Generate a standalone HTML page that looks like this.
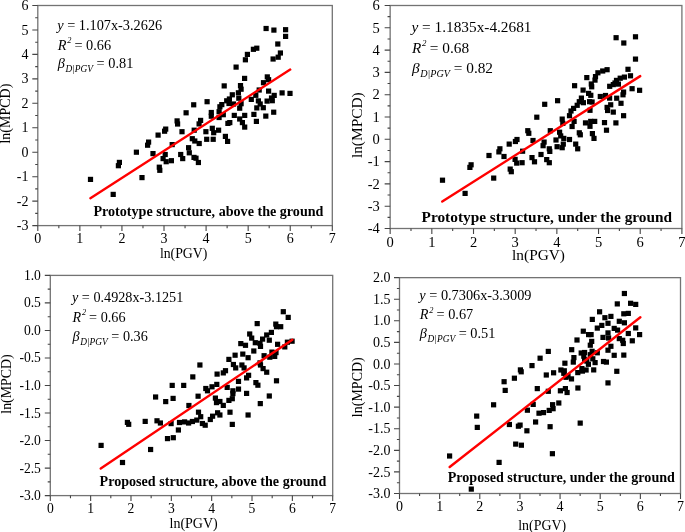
<!DOCTYPE html><html><head><meta charset="utf-8"><style>html,body{margin:0;padding:0;background:#fff;overflow:hidden}svg{display:block;will-change:transform}</style></head><body><svg width="685" height="532" viewBox="0 0 685 532" font-family='"Liberation Serif", serif'>
<rect width="685" height="532" fill="#fff"/>
<g fill="#000"><rect x="244.8" y="51.8" width="5.2" height="5.2"/><rect x="242.8" y="57.2" width="5.2" height="5.2"/><rect x="233.5" y="64.5" width="5.2" height="5.2"/><rect x="242.0" y="75.8" width="5.2" height="5.2"/><rect x="263.5" y="25.9" width="5.2" height="5.2"/><rect x="271.3" y="27.5" width="5.2" height="5.2"/><rect x="283.0" y="27.1" width="5.2" height="5.2"/><rect x="283.0" y="33.8" width="5.2" height="5.2"/><rect x="275.2" y="41.4" width="5.2" height="5.2"/><rect x="254.2" y="45.6" width="5.2" height="5.2"/><rect x="250.8" y="46.7" width="5.2" height="5.2"/><rect x="277.8" y="50.4" width="5.2" height="5.2"/><rect x="275.6" y="54.6" width="5.2" height="5.2"/><rect x="270.5" y="56.4" width="5.2" height="5.2"/><rect x="264.7" y="74.3" width="5.2" height="5.2"/><rect x="266.0" y="77.1" width="5.2" height="5.2"/><rect x="260.9" y="80.1" width="5.2" height="5.2"/><rect x="256.6" y="87.4" width="5.2" height="5.2"/><rect x="266.0" y="88.5" width="5.2" height="5.2"/><rect x="279.5" y="90.3" width="5.2" height="5.2"/><rect x="287.4" y="90.8" width="5.2" height="5.2"/><rect x="271.6" y="92.8" width="5.2" height="5.2"/><rect x="269.7" y="98.1" width="5.2" height="5.2"/><rect x="264.5" y="98.5" width="5.2" height="5.2"/><rect x="253.2" y="92.7" width="5.2" height="5.2"/><rect x="248.7" y="96.8" width="5.2" height="5.2"/><rect x="255.8" y="98.3" width="5.2" height="5.2"/><rect x="254.2" y="105.3" width="5.2" height="5.2"/><rect x="260.7" y="105.1" width="5.2" height="5.2"/><rect x="251.3" y="111.8" width="5.2" height="5.2"/><rect x="263.2" y="113.5" width="5.2" height="5.2"/><rect x="271.1" y="109.6" width="5.2" height="5.2"/><rect x="253.8" y="118.8" width="5.2" height="5.2"/><rect x="221.6" y="83.3" width="5.2" height="5.2"/><rect x="204.5" y="99.1" width="5.2" height="5.2"/><rect x="229.7" y="92.2" width="5.2" height="5.2"/><rect x="226.8" y="96.4" width="5.2" height="5.2"/><rect x="224.1" y="98.2" width="5.2" height="5.2"/><rect x="219.2" y="102.0" width="5.2" height="5.2"/><rect x="217.3" y="104.2" width="5.2" height="5.2"/><rect x="216.5" y="109.1" width="5.2" height="5.2"/><rect x="208.7" y="109.9" width="5.2" height="5.2"/><rect x="208.7" y="113.6" width="5.2" height="5.2"/><rect x="198.0" y="117.8" width="5.2" height="5.2"/><rect x="220.7" y="112.1" width="5.2" height="5.2"/><rect x="237.9" y="83.0" width="5.2" height="5.2"/><rect x="238.5" y="86.6" width="5.2" height="5.2"/><rect x="235.8" y="90.2" width="5.2" height="5.2"/><rect x="236.2" y="95.6" width="5.2" height="5.2"/><rect x="238.5" y="101.1" width="5.2" height="5.2"/><rect x="237.1" y="105.6" width="5.2" height="5.2"/><rect x="231.7" y="112.8" width="5.2" height="5.2"/><rect x="242.1" y="112.8" width="5.2" height="5.2"/><rect x="237.1" y="116.4" width="5.2" height="5.2"/><rect x="239.8" y="120.0" width="5.2" height="5.2"/><rect x="242.1" y="124.5" width="5.2" height="5.2"/><rect x="227.2" y="120.0" width="5.2" height="5.2"/><rect x="191.1" y="102.2" width="5.2" height="5.2"/><rect x="183.5" y="110.2" width="5.2" height="5.2"/><rect x="196.5" y="121.3" width="5.2" height="5.2"/><rect x="179.4" y="129.1" width="5.2" height="5.2"/><rect x="191.6" y="127.6" width="5.2" height="5.2"/><rect x="203.3" y="129.1" width="5.2" height="5.2"/><rect x="209.7" y="125.7" width="5.2" height="5.2"/><rect x="211.1" y="130.1" width="5.2" height="5.2"/><rect x="216.0" y="127.6" width="5.2" height="5.2"/><rect x="204.1" y="136.7" width="5.2" height="5.2"/><rect x="210.6" y="136.7" width="5.2" height="5.2"/><rect x="189.7" y="136.1" width="5.2" height="5.2"/><rect x="192.2" y="138.4" width="5.2" height="5.2"/><rect x="196.6" y="140.9" width="5.2" height="5.2"/><rect x="186.0" y="145.1" width="5.2" height="5.2"/><rect x="222.8" y="133.8" width="5.2" height="5.2"/><rect x="225.0" y="138.8" width="5.2" height="5.2"/><rect x="225.3" y="120.8" width="5.2" height="5.2"/><rect x="216.5" y="114.9" width="5.2" height="5.2"/><rect x="174.5" y="118.3" width="5.2" height="5.2"/><rect x="175.0" y="121.4" width="5.2" height="5.2"/><rect x="163.1" y="126.5" width="5.2" height="5.2"/><rect x="162.0" y="128.6" width="5.2" height="5.2"/><rect x="155.5" y="132.5" width="5.2" height="5.2"/><rect x="146.0" y="139.5" width="5.2" height="5.2"/><rect x="145.0" y="142.6" width="5.2" height="5.2"/><rect x="133.8" y="149.6" width="5.2" height="5.2"/><rect x="150.4" y="151.0" width="5.2" height="5.2"/><rect x="169.6" y="142.0" width="5.2" height="5.2"/><rect x="162.6" y="151.9" width="5.2" height="5.2"/><rect x="160.5" y="156.0" width="5.2" height="5.2"/><rect x="168.8" y="158.1" width="5.2" height="5.2"/><rect x="163.6" y="159.1" width="5.2" height="5.2"/><rect x="178.1" y="151.9" width="5.2" height="5.2"/><rect x="180.1" y="156.0" width="5.2" height="5.2"/><rect x="156.7" y="164.6" width="5.2" height="5.2"/><rect x="157.2" y="167.7" width="5.2" height="5.2"/><rect x="139.4" y="175.0" width="5.2" height="5.2"/><rect x="186.7" y="150.2" width="5.2" height="5.2"/><rect x="191.4" y="154.8" width="5.2" height="5.2"/><rect x="116.8" y="159.8" width="5.2" height="5.2"/><rect x="115.8" y="163.1" width="5.2" height="5.2"/><rect x="87.9" y="176.8" width="5.2" height="5.2"/><rect x="110.6" y="191.8" width="5.2" height="5.2"/><rect x="193.4" y="155.6" width="5.2" height="5.2"/><rect x="195.8" y="159.9" width="5.2" height="5.2"/><rect x="226.4" y="100.9" width="5.2" height="5.2"/><rect x="230.9" y="101.4" width="5.2" height="5.2"/><rect x="257.6" y="101.4" width="5.2" height="5.2"/><rect x="268.9" y="95.4" width="5.2" height="5.2"/></g>
<line x1="90.39" y1="198.18" x2="290.23" y2="69.59" stroke="#f00" stroke-width="2.4" stroke-linecap="round"/>
<rect x="37.80" y="5.50" width="294.50" height="220.10" fill="none" stroke="#737373" stroke-width="1.3"/>
<path d="M37.80 225.60v5.5M58.84 225.60v2.6M79.87 225.60v5.5M100.91 225.60v2.6M121.94 225.60v5.5M142.98 225.60v2.6M164.01 225.60v5.5M185.05 225.60v2.6M206.09 225.60v5.5M227.12 225.60v2.6M248.16 225.60v5.5M269.19 225.60v2.6M290.23 225.60v5.5M311.26 225.60v2.6M332.30 225.60v5.5M37.80 225.60h-5.5M37.80 213.37h-2.6M37.80 201.14h-5.5M37.80 188.92h-2.6M37.80 176.69h-5.5M37.80 164.46h-2.6M37.80 152.23h-5.5M37.80 140.01h-2.6M37.80 127.78h-5.5M37.80 115.55h-2.6M37.80 103.32h-5.5M37.80 91.09h-2.6M37.80 78.87h-5.5M37.80 66.64h-2.6M37.80 54.41h-5.5M37.80 42.18h-2.6M37.80 29.96h-5.5M37.80 17.73h-2.6M37.80 5.50h-5.5" stroke="#444" stroke-width="1.1" fill="none"/>
<g font-size="14.0" fill="#000"><text x="37.80" y="242.70" text-anchor="middle">0</text><text x="79.87" y="242.70" text-anchor="middle">1</text><text x="121.94" y="242.70" text-anchor="middle">2</text><text x="164.01" y="242.70" text-anchor="middle">3</text><text x="206.09" y="242.70" text-anchor="middle">4</text><text x="248.16" y="242.70" text-anchor="middle">5</text><text x="290.23" y="242.70" text-anchor="middle">6</text><text x="332.30" y="242.70" text-anchor="middle">7</text><text x="28.52" y="230.22" text-anchor="end">-3</text><text x="28.52" y="205.76" text-anchor="end">-2</text><text x="28.52" y="181.31" text-anchor="end">-1</text><text x="28.52" y="156.85" text-anchor="end">0</text><text x="28.52" y="132.40" text-anchor="end">1</text><text x="28.52" y="107.94" text-anchor="end">2</text><text x="28.52" y="83.49" text-anchor="end">3</text><text x="28.52" y="59.03" text-anchor="end">4</text><text x="28.52" y="34.58" text-anchor="end">5</text><text x="28.52" y="10.12" text-anchor="end">6</text></g>
<text x="183.65" y="257.70" font-size="13.8" text-anchor="middle" fill="#000">ln(PGV)</text>
<text transform="translate(9.90,113.60) rotate(-90)" font-size="14.0" text-anchor="middle" fill="#000">ln(MPCD)</text>
<text x="57.22" y="30.00" font-size="14.3" fill="#000"><tspan font-style="italic">y</tspan> = 1.107x-3.2626</text>
<text x="57.71" y="49.60" font-size="14.3" fill="#000"><tspan font-style="italic">R</tspan><tspan font-style="italic" font-size="8.3" dx="0.72" dy="-6.44">2</tspan><tspan dy="6.44" dx="-0.43"> = 0.66</tspan></text>
<text x="57.71" y="67.70" font-size="14.3" fill="#000"><tspan font-style="italic">β</tspan><tspan font-style="italic" font-size="9.4" dx="0.64" dy="4.00">D|PGV</tspan><tspan dy="-4.00"> = 0.81</tspan></text>
<text x="93.39" y="215.60" font-size="14.12" font-weight="bold" fill="#000">Prototype structure, above the ground</text>
<g fill="#000"><rect x="613.5" y="35.1" width="5.2" height="5.2"/><rect x="621.2" y="40.4" width="5.2" height="5.2"/><rect x="632.9" y="34.2" width="5.2" height="5.2"/><rect x="632.9" y="56.5" width="5.2" height="5.2"/><rect x="625.4" y="66.7" width="5.2" height="5.2"/><rect x="604.5" y="67.1" width="5.2" height="5.2"/><rect x="600.1" y="68.4" width="5.2" height="5.2"/><rect x="595.3" y="70.2" width="5.2" height="5.2"/><rect x="592.9" y="74.0" width="5.2" height="5.2"/><rect x="584.2" y="75.0" width="5.2" height="5.2"/><rect x="592.4" y="77.5" width="5.2" height="5.2"/><rect x="588.7" y="81.4" width="5.2" height="5.2"/><rect x="589.1" y="84.2" width="5.2" height="5.2"/><rect x="627.9" y="73.2" width="5.2" height="5.2"/><rect x="621.8" y="74.5" width="5.2" height="5.2"/><rect x="617.6" y="75.6" width="5.2" height="5.2"/><rect x="613.9" y="77.8" width="5.2" height="5.2"/><rect x="612.4" y="80.4" width="5.2" height="5.2"/><rect x="607.1" y="83.7" width="5.2" height="5.2"/><rect x="580.5" y="87.5" width="5.2" height="5.2"/><rect x="629.5" y="86.1" width="5.2" height="5.2"/><rect x="588.2" y="92.7" width="5.2" height="5.2"/><rect x="589.5" y="99.4" width="5.2" height="5.2"/><rect x="587.4" y="107.7" width="5.2" height="5.2"/><rect x="615.8" y="81.5" width="5.2" height="5.2"/><rect x="610.7" y="82.0" width="5.2" height="5.2"/><rect x="637.0" y="87.7" width="5.2" height="5.2"/><rect x="621.0" y="89.5" width="5.2" height="5.2"/><rect x="620.4" y="92.2" width="5.2" height="5.2"/><rect x="597.7" y="93.9" width="5.2" height="5.2"/><rect x="602.9" y="92.9" width="5.2" height="5.2"/><rect x="607.0" y="95.5" width="5.2" height="5.2"/><rect x="614.1" y="95.6" width="5.2" height="5.2"/><rect x="618.4" y="100.7" width="5.2" height="5.2"/><rect x="608.1" y="102.2" width="5.2" height="5.2"/><rect x="604.5" y="104.8" width="5.2" height="5.2"/><rect x="605.0" y="107.9" width="5.2" height="5.2"/><rect x="610.7" y="109.5" width="5.2" height="5.2"/><rect x="621.0" y="113.1" width="5.2" height="5.2"/><rect x="572.0" y="83.1" width="5.2" height="5.2"/><rect x="586.0" y="90.8" width="5.2" height="5.2"/><rect x="578.8" y="95.5" width="5.2" height="5.2"/><rect x="576.7" y="99.1" width="5.2" height="5.2"/><rect x="580.8" y="100.1" width="5.2" height="5.2"/><rect x="587.0" y="99.1" width="5.2" height="5.2"/><rect x="574.6" y="102.7" width="5.2" height="5.2"/><rect x="571.0" y="105.8" width="5.2" height="5.2"/><rect x="568.4" y="108.4" width="5.2" height="5.2"/><rect x="566.9" y="113.1" width="5.2" height="5.2"/><rect x="559.6" y="116.5" width="5.2" height="5.2"/><rect x="555.0" y="98.1" width="5.2" height="5.2"/><rect x="542.1" y="101.7" width="5.2" height="5.2"/><rect x="560.2" y="120.8" width="5.2" height="5.2"/><rect x="571.5" y="118.8" width="5.2" height="5.2"/><rect x="569.5" y="123.9" width="5.2" height="5.2"/><rect x="582.9" y="120.3" width="5.2" height="5.2"/><rect x="588.1" y="118.8" width="5.2" height="5.2"/><rect x="587.4" y="123.7" width="5.2" height="5.2"/><rect x="576.7" y="130.2" width="5.2" height="5.2"/><rect x="577.7" y="132.2" width="5.2" height="5.2"/><rect x="589.8" y="131.0" width="5.2" height="5.2"/><rect x="591.4" y="135.8" width="5.2" height="5.2"/><rect x="547.7" y="128.1" width="5.2" height="5.2"/><rect x="557.0" y="129.6" width="5.2" height="5.2"/><rect x="558.1" y="133.3" width="5.2" height="5.2"/><rect x="553.4" y="137.4" width="5.2" height="5.2"/><rect x="561.2" y="135.8" width="5.2" height="5.2"/><rect x="566.9" y="136.9" width="5.2" height="5.2"/><rect x="560.7" y="141.5" width="5.2" height="5.2"/><rect x="554.5" y="144.1" width="5.2" height="5.2"/><rect x="559.6" y="145.1" width="5.2" height="5.2"/><rect x="573.1" y="141.5" width="5.2" height="5.2"/><rect x="575.1" y="146.2" width="5.2" height="5.2"/><rect x="541.5" y="139.5" width="5.2" height="5.2"/><rect x="540.5" y="143.1" width="5.2" height="5.2"/><rect x="546.7" y="146.2" width="5.2" height="5.2"/><rect x="547.2" y="148.8" width="5.2" height="5.2"/><rect x="538.4" y="151.9" width="5.2" height="5.2"/><rect x="544.1" y="157.0" width="5.2" height="5.2"/><rect x="546.7" y="160.1" width="5.2" height="5.2"/><rect x="592.1" y="118.8" width="5.2" height="5.2"/><rect x="601.9" y="120.0" width="5.2" height="5.2"/><rect x="613.3" y="120.3" width="5.2" height="5.2"/><rect x="603.9" y="127.6" width="5.2" height="5.2"/><rect x="534.2" y="114.6" width="5.2" height="5.2"/><rect x="525.2" y="128.1" width="5.2" height="5.2"/><rect x="526.2" y="130.7" width="5.2" height="5.2"/><rect x="514.4" y="136.9" width="5.2" height="5.2"/><rect x="512.8" y="138.9" width="5.2" height="5.2"/><rect x="506.6" y="141.5" width="5.2" height="5.2"/><rect x="530.4" y="137.9" width="5.2" height="5.2"/><rect x="520.0" y="148.6" width="5.2" height="5.2"/><rect x="497.3" y="146.2" width="5.2" height="5.2"/><rect x="496.3" y="149.3" width="5.2" height="5.2"/><rect x="501.4" y="153.9" width="5.2" height="5.2"/><rect x="486.4" y="152.9" width="5.2" height="5.2"/><rect x="512.5" y="156.8" width="5.2" height="5.2"/><rect x="514.1" y="160.5" width="5.2" height="5.2"/><rect x="519.5" y="160.1" width="5.2" height="5.2"/><rect x="529.4" y="155.0" width="5.2" height="5.2"/><rect x="531.9" y="159.2" width="5.2" height="5.2"/><rect x="507.6" y="166.5" width="5.2" height="5.2"/><rect x="508.7" y="169.1" width="5.2" height="5.2"/><rect x="491.1" y="175.5" width="5.2" height="5.2"/><rect x="468.5" y="162.2" width="5.2" height="5.2"/><rect x="467.3" y="164.8" width="5.2" height="5.2"/><rect x="439.9" y="177.6" width="5.2" height="5.2"/><rect x="462.5" y="190.8" width="5.2" height="5.2"/></g>
<line x1="442.25" y1="201.49" x2="640.22" y2="76.13" stroke="#f00" stroke-width="2.4" stroke-linecap="round"/>
<rect x="390.15" y="5.50" width="291.75" height="223.00" fill="none" stroke="#737373" stroke-width="1.3"/>
<path d="M390.15 228.50v5.5M410.99 228.50v2.6M431.83 228.50v5.5M452.67 228.50v2.6M473.51 228.50v5.5M494.35 228.50v2.6M515.19 228.50v5.5M536.02 228.50v2.6M556.86 228.50v5.5M577.70 228.50v2.6M598.54 228.50v5.5M619.38 228.50v2.6M640.22 228.50v5.5M661.06 228.50v2.6M681.90 228.50v5.5M390.15 228.50h-5.5M390.15 217.35h-2.6M390.15 206.20h-5.5M390.15 195.05h-2.6M390.15 183.90h-5.5M390.15 172.75h-2.6M390.15 161.60h-5.5M390.15 150.45h-2.6M390.15 139.30h-5.5M390.15 128.15h-2.6M390.15 117.00h-5.5M390.15 105.85h-2.6M390.15 94.70h-5.5M390.15 83.55h-2.6M390.15 72.40h-5.5M390.15 61.25h-2.6M390.15 50.10h-5.5M390.15 38.95h-2.6M390.15 27.80h-5.5M390.15 16.65h-2.6M390.15 5.50h-5.5" stroke="#444" stroke-width="1.1" fill="none"/>
<g font-size="14.5" fill="#000"><text x="390.15" y="246.80" text-anchor="middle">0</text><text x="431.83" y="246.80" text-anchor="middle">1</text><text x="473.51" y="246.80" text-anchor="middle">2</text><text x="515.19" y="246.80" text-anchor="middle">3</text><text x="556.86" y="246.80" text-anchor="middle">4</text><text x="598.54" y="246.80" text-anchor="middle">5</text><text x="640.22" y="246.80" text-anchor="middle">6</text><text x="681.90" y="246.80" text-anchor="middle">7</text><text x="379.83" y="233.28" text-anchor="end">-4</text><text x="379.83" y="210.98" text-anchor="end">-3</text><text x="379.83" y="188.69" text-anchor="end">-2</text><text x="379.83" y="166.38" text-anchor="end">-1</text><text x="379.83" y="144.09" text-anchor="end">0</text><text x="379.83" y="121.78" text-anchor="end">1</text><text x="379.83" y="99.48" text-anchor="end">2</text><text x="379.83" y="77.19" text-anchor="end">3</text><text x="379.83" y="54.88" text-anchor="end">4</text><text x="379.83" y="32.58" text-anchor="end">5</text><text x="379.83" y="10.29" text-anchor="end">6</text></g>
<text x="538.55" y="260.10" font-size="15.35" text-anchor="middle" fill="#000">ln(PGV)</text>
<text transform="translate(362.30,125.20) rotate(-90)" font-size="15.4" text-anchor="middle" fill="#000">ln(MPCD)</text>
<text x="411.50" y="31.80" font-size="15.3" fill="#000"><tspan font-style="italic">y</tspan> = 1.1835x-4.2681</text>
<text x="411.93" y="52.90" font-size="15.3" fill="#000"><tspan font-style="italic">R</tspan><tspan font-style="italic" font-size="8.9" dx="0.77" dy="-6.89">2</tspan><tspan dy="6.89" dx="-0.46"> = 0.68</tspan></text>
<text x="411.93" y="72.80" font-size="15.3" fill="#000"><tspan font-style="italic">β</tspan><tspan font-style="italic" font-size="10.1" dx="0.72" dy="4.28">D|PGV</tspan><tspan dy="-4.28"> = 0.82</tspan></text>
<text x="421.57" y="222.00" font-size="15.34" font-weight="bold" fill="#000">Prototype structure, under the ground</text>
<g fill="#000"><rect x="280.7" y="309.1" width="5.2" height="5.2"/><rect x="285.6" y="314.8" width="5.2" height="5.2"/><rect x="254.6" y="321.0" width="5.2" height="5.2"/><rect x="273.2" y="321.5" width="5.2" height="5.2"/><rect x="278.1" y="324.1" width="5.2" height="5.2"/><rect x="273.9" y="324.1" width="5.2" height="5.2"/><rect x="268.8" y="329.8" width="5.2" height="5.2"/><rect x="264.1" y="332.4" width="5.2" height="5.2"/><rect x="266.7" y="337.6" width="5.2" height="5.2"/><rect x="260.0" y="336.5" width="5.2" height="5.2"/><rect x="247.1" y="331.4" width="5.2" height="5.2"/><rect x="249.1" y="335.5" width="5.2" height="5.2"/><rect x="252.7" y="340.1" width="5.2" height="5.2"/><rect x="257.4" y="340.7" width="5.2" height="5.2"/><rect x="257.9" y="343.8" width="5.2" height="5.2"/><rect x="242.9" y="342.7" width="5.2" height="5.2"/><rect x="251.2" y="348.4" width="5.2" height="5.2"/><rect x="275.0" y="341.7" width="5.2" height="5.2"/><rect x="282.2" y="344.3" width="5.2" height="5.2"/><rect x="289.5" y="338.6" width="5.2" height="5.2"/><rect x="284.8" y="339.6" width="5.2" height="5.2"/><rect x="269.3" y="349.5" width="5.2" height="5.2"/><rect x="273.4" y="350.0" width="5.2" height="5.2"/><rect x="261.5" y="353.1" width="5.2" height="5.2"/><rect x="272.1" y="353.8" width="5.2" height="5.2"/><rect x="245.5" y="355.1" width="5.2" height="5.2"/><rect x="267.2" y="354.6" width="5.2" height="5.2"/><rect x="257.4" y="360.3" width="5.2" height="5.2"/><rect x="257.9" y="362.4" width="5.2" height="5.2"/><rect x="260.5" y="366.0" width="5.2" height="5.2"/><rect x="264.1" y="369.6" width="5.2" height="5.2"/><rect x="246.0" y="372.7" width="5.2" height="5.2"/><rect x="244.0" y="375.3" width="5.2" height="5.2"/><rect x="253.3" y="380.0" width="5.2" height="5.2"/><rect x="255.3" y="382.6" width="5.2" height="5.2"/><rect x="273.9" y="378.2" width="5.2" height="5.2"/><rect x="244.0" y="390.8" width="5.2" height="5.2"/><rect x="266.7" y="393.4" width="5.2" height="5.2"/><rect x="257.7" y="401.0" width="5.2" height="5.2"/><rect x="238.2" y="341.0" width="5.2" height="5.2"/><rect x="240.2" y="351.5" width="5.2" height="5.2"/><rect x="232.5" y="352.6" width="5.2" height="5.2"/><rect x="226.3" y="356.8" width="5.2" height="5.2"/><rect x="230.8" y="361.9" width="5.2" height="5.2"/><rect x="233.1" y="365.3" width="5.2" height="5.2"/><rect x="239.3" y="362.4" width="5.2" height="5.2"/><rect x="241.5" y="365.3" width="5.2" height="5.2"/><rect x="222.9" y="368.1" width="5.2" height="5.2"/><rect x="220.7" y="370.3" width="5.2" height="5.2"/><rect x="214.5" y="371.5" width="5.2" height="5.2"/><rect x="197.3" y="362.4" width="5.2" height="5.2"/><rect x="190.2" y="374.3" width="5.2" height="5.2"/><rect x="235.9" y="378.8" width="5.2" height="5.2"/><rect x="214.2" y="381.8" width="5.2" height="5.2"/><rect x="203.2" y="385.9" width="5.2" height="5.2"/><rect x="204.9" y="388.2" width="5.2" height="5.2"/><rect x="209.4" y="384.2" width="5.2" height="5.2"/><rect x="224.6" y="384.8" width="5.2" height="5.2"/><rect x="230.3" y="388.2" width="5.2" height="5.2"/><rect x="235.9" y="386.5" width="5.2" height="5.2"/><rect x="230.3" y="391.0" width="5.2" height="5.2"/><rect x="195.5" y="393.6" width="5.2" height="5.2"/><rect x="212.8" y="395.5" width="5.2" height="5.2"/><rect x="213.9" y="400.0" width="5.2" height="5.2"/><rect x="217.3" y="398.9" width="5.2" height="5.2"/><rect x="220.7" y="402.8" width="5.2" height="5.2"/><rect x="226.3" y="397.8" width="5.2" height="5.2"/><rect x="229.7" y="396.1" width="5.2" height="5.2"/><rect x="227.4" y="409.6" width="5.2" height="5.2"/><rect x="245.5" y="412.4" width="5.2" height="5.2"/><rect x="229.7" y="421.8" width="5.2" height="5.2"/><rect x="195.9" y="409.6" width="5.2" height="5.2"/><rect x="198.1" y="414.1" width="5.2" height="5.2"/><rect x="215.0" y="410.2" width="5.2" height="5.2"/><rect x="217.3" y="412.4" width="5.2" height="5.2"/><rect x="210.0" y="413.6" width="5.2" height="5.2"/><rect x="207.7" y="416.9" width="5.2" height="5.2"/><rect x="189.8" y="418.9" width="5.2" height="5.2"/><rect x="194.2" y="417.5" width="5.2" height="5.2"/><rect x="199.8" y="420.9" width="5.2" height="5.2"/><rect x="202.6" y="422.6" width="5.2" height="5.2"/><rect x="169.6" y="382.8" width="5.2" height="5.2"/><rect x="181.1" y="382.8" width="5.2" height="5.2"/><rect x="153.0" y="394.4" width="5.2" height="5.2"/><rect x="163.1" y="399.0" width="5.2" height="5.2"/><rect x="170.5" y="395.8" width="5.2" height="5.2"/><rect x="186.3" y="402.9" width="5.2" height="5.2"/><rect x="142.6" y="418.8" width="5.2" height="5.2"/><rect x="154.4" y="418.2" width="5.2" height="5.2"/><rect x="157.8" y="420.4" width="5.2" height="5.2"/><rect x="168.5" y="421.0" width="5.2" height="5.2"/><rect x="176.9" y="419.9" width="5.2" height="5.2"/><rect x="182.0" y="419.3" width="5.2" height="5.2"/><rect x="186.0" y="420.4" width="5.2" height="5.2"/><rect x="175.8" y="427.4" width="5.2" height="5.2"/><rect x="164.9" y="436.0" width="5.2" height="5.2"/><rect x="170.7" y="435.1" width="5.2" height="5.2"/><rect x="148.0" y="446.9" width="5.2" height="5.2"/><rect x="124.8" y="419.8" width="5.2" height="5.2"/><rect x="126.1" y="421.7" width="5.2" height="5.2"/><rect x="98.5" y="442.8" width="5.2" height="5.2"/><rect x="119.9" y="459.9" width="5.2" height="5.2"/></g>
<line x1="100.73" y1="468.58" x2="292.36" y2="339.71" stroke="#f00" stroke-width="2.4" stroke-linecap="round"/>
<rect x="50.30" y="275.40" width="282.40" height="220.20" fill="none" stroke="#737373" stroke-width="1.3"/>
<path d="M50.30 495.60v5.5M70.47 495.60v2.6M90.64 495.60v5.5M110.81 495.60v2.6M130.99 495.60v5.5M151.16 495.60v2.6M171.33 495.60v5.5M191.50 495.60v2.6M211.67 495.60v5.5M231.84 495.60v2.6M252.01 495.60v5.5M272.19 495.60v2.6M292.36 495.60v5.5M312.53 495.60v2.6M332.70 495.60v5.5M50.30 495.60h-5.5M50.30 481.84h-2.6M50.30 468.08h-5.5M50.30 454.31h-2.6M50.30 440.55h-5.5M50.30 426.79h-2.6M50.30 413.02h-5.5M50.30 399.26h-2.6M50.30 385.50h-5.5M50.30 371.74h-2.6M50.30 357.98h-5.5M50.30 344.21h-2.6M50.30 330.45h-5.5M50.30 316.69h-2.6M50.30 302.92h-5.5M50.30 289.16h-2.6M50.30 275.40h-5.5" stroke="#444" stroke-width="1.1" fill="none"/>
<g font-size="13.6" fill="#000"><text x="50.30" y="512.50" text-anchor="middle">0</text><text x="90.64" y="512.50" text-anchor="middle">1</text><text x="130.99" y="512.50" text-anchor="middle">2</text><text x="171.33" y="512.50" text-anchor="middle">3</text><text x="211.67" y="512.50" text-anchor="middle">4</text><text x="252.01" y="512.50" text-anchor="middle">5</text><text x="292.36" y="512.50" text-anchor="middle">6</text><text x="332.70" y="512.50" text-anchor="middle">7</text><text x="40.91" y="500.09" text-anchor="end">-3.0</text><text x="40.91" y="472.56" text-anchor="end">-2.5</text><text x="40.91" y="445.04" text-anchor="end">-2.0</text><text x="40.91" y="417.51" text-anchor="end">-1.5</text><text x="40.91" y="389.99" text-anchor="end">-1.0</text><text x="40.91" y="362.46" text-anchor="end">-0.5</text><text x="40.91" y="334.94" text-anchor="end">0.0</text><text x="40.91" y="307.41" text-anchor="end">0.5</text><text x="40.91" y="279.89" text-anchor="end">1.0</text></g>
<text x="193.65" y="527.90" font-size="14.0" text-anchor="middle" fill="#000">ln(PGV)</text>
<text transform="translate(11.30,384.00) rotate(-90)" font-size="13.9" text-anchor="middle" fill="#000">ln(MPCD)</text>
<text x="72.01" y="301.60" font-size="14.2" fill="#000"><tspan font-style="italic">y</tspan> = 0.4928x-3.1251</text>
<text x="72.51" y="321.80" font-size="14.2" fill="#000"><tspan font-style="italic">R</tspan><tspan font-style="italic" font-size="8.2" dx="0.71" dy="-6.39">2</tspan><tspan dy="6.39" dx="-0.43"> = 0.66</tspan></text>
<text x="72.51" y="340.60" font-size="14.2" fill="#000"><tspan font-style="italic">β</tspan><tspan font-style="italic" font-size="9.4" dx="0.64" dy="3.98">D|PGV</tspan><tspan dy="-3.98"> = 0.36</tspan></text>
<text x="99.59" y="485.90" font-size="14.1" font-weight="bold" fill="#000">Proposed structure, above the ground</text>
<g fill="#000"><rect x="621.8" y="290.9" width="5.2" height="5.2"/><rect x="614.7" y="301.3" width="5.2" height="5.2"/><rect x="628.0" y="300.7" width="5.2" height="5.2"/><rect x="633.1" y="301.8" width="5.2" height="5.2"/><rect x="597.0" y="309.2" width="5.2" height="5.2"/><rect x="621.2" y="311.2" width="5.2" height="5.2"/><rect x="625.7" y="310.8" width="5.2" height="5.2"/><rect x="608.3" y="313.8" width="5.2" height="5.2"/><rect x="602.3" y="315.1" width="5.2" height="5.2"/><rect x="589.7" y="316.8" width="5.2" height="5.2"/><rect x="616.7" y="318.7" width="5.2" height="5.2"/><rect x="621.8" y="320.2" width="5.2" height="5.2"/><rect x="605.4" y="320.7" width="5.2" height="5.2"/><rect x="599.2" y="322.8" width="5.2" height="5.2"/><rect x="594.7" y="325.5" width="5.2" height="5.2"/><rect x="611.6" y="325.8" width="5.2" height="5.2"/><rect x="615.0" y="327.5" width="5.2" height="5.2"/><rect x="633.1" y="325.3" width="5.2" height="5.2"/><rect x="625.7" y="330.9" width="5.2" height="5.2"/><rect x="637.0" y="332.0" width="5.2" height="5.2"/><rect x="605.4" y="330.3" width="5.2" height="5.2"/><rect x="600.4" y="334.8" width="5.2" height="5.2"/><rect x="606.0" y="335.4" width="5.2" height="5.2"/><rect x="616.7" y="336.0" width="5.2" height="5.2"/><rect x="620.1" y="337.7" width="5.2" height="5.2"/><rect x="629.7" y="338.2" width="5.2" height="5.2"/><rect x="588.5" y="332.0" width="5.2" height="5.2"/><rect x="589.1" y="338.8" width="5.2" height="5.2"/><rect x="580.7" y="328.6" width="5.2" height="5.2"/><rect x="586.0" y="332.0" width="5.2" height="5.2"/><rect x="574.4" y="337.4" width="5.2" height="5.2"/><rect x="587.7" y="342.6" width="5.2" height="5.2"/><rect x="545.7" y="348.8" width="5.2" height="5.2"/><rect x="537.5" y="355.6" width="5.2" height="5.2"/><rect x="569.1" y="347.1" width="5.2" height="5.2"/><rect x="578.6" y="350.4" width="5.2" height="5.2"/><rect x="582.0" y="349.9" width="5.2" height="5.2"/><rect x="587.7" y="352.1" width="5.2" height="5.2"/><rect x="571.3" y="355.0" width="5.2" height="5.2"/><rect x="570.7" y="359.5" width="5.2" height="5.2"/><rect x="582.0" y="357.2" width="5.2" height="5.2"/><rect x="585.8" y="361.7" width="5.2" height="5.2"/><rect x="562.3" y="360.6" width="5.2" height="5.2"/><rect x="558.3" y="367.4" width="5.2" height="5.2"/><rect x="551.0" y="370.2" width="5.2" height="5.2"/><rect x="561.2" y="370.7" width="5.2" height="5.2"/><rect x="563.4" y="374.7" width="5.2" height="5.2"/><rect x="568.9" y="376.3" width="5.2" height="5.2"/><rect x="543.7" y="372.4" width="5.2" height="5.2"/><rect x="575.2" y="370.0" width="5.2" height="5.2"/><rect x="579.8" y="368.5" width="5.2" height="5.2"/><rect x="583.5" y="367.4" width="5.2" height="5.2"/><rect x="591.1" y="367.3" width="5.2" height="5.2"/><rect x="534.7" y="386.0" width="5.2" height="5.2"/><rect x="545.7" y="388.7" width="5.2" height="5.2"/><rect x="557.8" y="388.2" width="5.2" height="5.2"/><rect x="562.8" y="386.0" width="5.2" height="5.2"/><rect x="564.5" y="389.9" width="5.2" height="5.2"/><rect x="575.3" y="385.4" width="5.2" height="5.2"/><rect x="589.5" y="348.7" width="5.2" height="5.2"/><rect x="594.7" y="350.2" width="5.2" height="5.2"/><rect x="581.2" y="353.6" width="5.2" height="5.2"/><rect x="584.2" y="358.5" width="5.2" height="5.2"/><rect x="590.2" y="356.2" width="5.2" height="5.2"/><rect x="592.5" y="360.0" width="5.2" height="5.2"/><rect x="561.7" y="368.2" width="5.2" height="5.2"/><rect x="579.3" y="366.0" width="5.2" height="5.2"/><rect x="565.4" y="373.5" width="5.2" height="5.2"/><rect x="620.7" y="340.9" width="5.2" height="5.2"/><rect x="608.3" y="343.7" width="5.2" height="5.2"/><rect x="605.4" y="347.6" width="5.2" height="5.2"/><rect x="611.6" y="352.7" width="5.2" height="5.2"/><rect x="621.2" y="352.5" width="5.2" height="5.2"/><rect x="600.9" y="358.9" width="5.2" height="5.2"/><rect x="603.8" y="359.5" width="5.2" height="5.2"/><rect x="614.2" y="368.7" width="5.2" height="5.2"/><rect x="605.4" y="380.3" width="5.2" height="5.2"/><rect x="530.6" y="401.8" width="5.2" height="5.2"/><rect x="556.2" y="400.4" width="5.2" height="5.2"/><rect x="550.0" y="402.1" width="5.2" height="5.2"/><rect x="550.5" y="406.1" width="5.2" height="5.2"/><rect x="546.6" y="407.8" width="5.2" height="5.2"/><rect x="540.9" y="410.0" width="5.2" height="5.2"/><rect x="536.4" y="410.6" width="5.2" height="5.2"/><rect x="533.0" y="419.4" width="5.2" height="5.2"/><rect x="547.5" y="424.1" width="5.2" height="5.2"/><rect x="577.6" y="420.5" width="5.2" height="5.2"/><rect x="501.5" y="379.1" width="5.2" height="5.2"/><rect x="511.8" y="375.6" width="5.2" height="5.2"/><rect x="502.6" y="387.8" width="5.2" height="5.2"/><rect x="491.0" y="402.2" width="5.2" height="5.2"/><rect x="474.1" y="413.5" width="5.2" height="5.2"/><rect x="474.7" y="424.8" width="5.2" height="5.2"/><rect x="524.8" y="407.6" width="5.2" height="5.2"/><rect x="506.8" y="421.9" width="5.2" height="5.2"/><rect x="515.8" y="423.6" width="5.2" height="5.2"/><rect x="517.5" y="422.5" width="5.2" height="5.2"/><rect x="524.3" y="428.2" width="5.2" height="5.2"/><rect x="529.4" y="363.0" width="5.2" height="5.2"/><rect x="517.8" y="367.3" width="5.2" height="5.2"/><rect x="518.6" y="369.2" width="5.2" height="5.2"/><rect x="447.0" y="453.4" width="5.2" height="5.2"/><rect x="496.5" y="459.8" width="5.2" height="5.2"/><rect x="468.7" y="486.5" width="5.2" height="5.2"/><rect x="513.1" y="441.5" width="5.2" height="5.2"/><rect x="518.8" y="442.6" width="5.2" height="5.2"/><rect x="549.8" y="451.1" width="5.2" height="5.2"/></g>
<line x1="449.68" y1="467.06" x2="640.36" y2="317.25" stroke="#f00" stroke-width="2.4" stroke-linecap="round"/>
<rect x="399.50" y="277.65" width="281.00" height="215.85" fill="none" stroke="#737373" stroke-width="1.3"/>
<path d="M399.50 493.50v5.5M419.57 493.50v2.6M439.64 493.50v5.5M459.71 493.50v2.6M479.79 493.50v5.5M499.86 493.50v2.6M519.93 493.50v5.5M540.00 493.50v2.6M560.07 493.50v5.5M580.14 493.50v2.6M600.21 493.50v5.5M620.29 493.50v2.6M640.36 493.50v5.5M660.43 493.50v2.6M680.50 493.50v5.5M399.50 493.50h-5.5M399.50 482.71h-2.6M399.50 471.92h-5.5M399.50 461.12h-2.6M399.50 450.33h-5.5M399.50 439.54h-2.6M399.50 428.75h-5.5M399.50 417.95h-2.6M399.50 407.16h-5.5M399.50 396.37h-2.6M399.50 385.57h-5.5M399.50 374.78h-2.6M399.50 363.99h-5.5M399.50 353.20h-2.6M399.50 342.40h-5.5M399.50 331.61h-2.6M399.50 320.82h-5.5M399.50 310.03h-2.6M399.50 299.24h-5.5M399.50 288.44h-2.6M399.50 277.65h-5.5" stroke="#444" stroke-width="1.1" fill="none"/>
<g font-size="14.0" fill="#000"><text x="399.50" y="510.70" text-anchor="middle">0</text><text x="439.64" y="510.70" text-anchor="middle">1</text><text x="479.79" y="510.70" text-anchor="middle">2</text><text x="519.93" y="510.70" text-anchor="middle">3</text><text x="560.07" y="510.70" text-anchor="middle">4</text><text x="600.21" y="510.70" text-anchor="middle">5</text><text x="640.36" y="510.70" text-anchor="middle">6</text><text x="680.50" y="510.70" text-anchor="middle">7</text><text x="390.42" y="498.12" text-anchor="end">-3.0</text><text x="390.42" y="476.54" text-anchor="end">-2.5</text><text x="390.42" y="454.95" text-anchor="end">-2.0</text><text x="390.42" y="433.37" text-anchor="end">-1.5</text><text x="390.42" y="411.78" text-anchor="end">-1.0</text><text x="390.42" y="390.19" text-anchor="end">-0.5</text><text x="390.42" y="368.61" text-anchor="end">0.0</text><text x="390.42" y="347.02" text-anchor="end">0.5</text><text x="390.42" y="325.44" text-anchor="end">1.0</text><text x="390.42" y="303.86" text-anchor="end">1.5</text><text x="390.42" y="282.27" text-anchor="end">2.0</text></g>
<text x="542.20" y="529.50" font-size="13.9" text-anchor="middle" fill="#000">ln(PGV)</text>
<text transform="translate(361.80,387.20) rotate(-90)" font-size="14.0" text-anchor="middle" fill="#000">ln(MPCD)</text>
<text x="419.32" y="299.70" font-size="14.3" fill="#000"><tspan font-style="italic">y</tspan> = 0.7306x-3.3009</text>
<text x="419.81" y="319.30" font-size="14.3" fill="#000"><tspan font-style="italic">R</tspan><tspan font-style="italic" font-size="8.3" dx="0.72" dy="-6.44">2</tspan><tspan dy="6.44" dx="-0.43"> = 0.67</tspan></text>
<text x="419.81" y="337.80" font-size="14.3" fill="#000"><tspan font-style="italic">β</tspan><tspan font-style="italic" font-size="9.4" dx="0.64" dy="4.00">D|PGV</tspan><tspan dy="-4.00"> = 0.51</tspan></text>
<text x="447.69" y="481.70" font-size="14.1" font-weight="bold" fill="#000">Proposed structure, under the ground</text>
</svg></body></html>
